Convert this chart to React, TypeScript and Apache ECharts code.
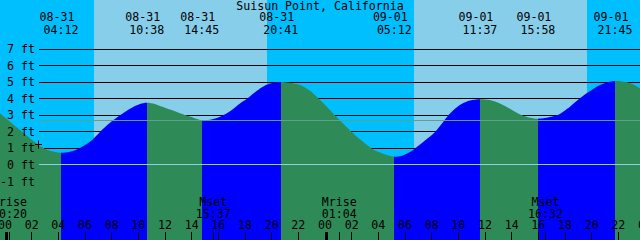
import { useEffect, useRef } from "react";
import * as echarts from "echarts";

// ---------- data ----------
const TITLE = "Suisun Point, California";

// tide curve: hours from 08-31 00:00, height in ft
const tideHours = [
  -0.375, 0.375, 1.125, 1.875, 2.625, 3.15, 3.675, 4.2, 4.875, 5.55, 6.375, 7.125, 7.875, 8.625,
  9.375, 10.125, 10.633, 11.25, 11.625, 12.375, 13.125, 13.875, 14.4, 14.75, 15.375, 16.125,
  16.875, 17.625, 18.15, 18.75, 19.275, 19.725, 20.25, 20.683, 21.375, 22.125, 22.875, 23.625,
  24.225, 24.75, 25.35, 26.0, 26.625, 27.5, 28.125, 28.65, 29.2, 29.775, 30.375, 30.75, 31.5,
  32.25, 32.775, 33.25, 33.75, 34.275, 34.875, 35.617, 36.375, 37.125, 37.875, 38.775, 39.375,
  39.967, 40.5, 41.4, 42.0, 42.375, 42.875, 43.625, 44.625, 45.225, 45.75, 46.275, 46.875, 47.625,
];
const tideFeet = [
  3.12, 2.62, 2.12, 1.62, 1.15, 0.92, 0.8, 0.74, 0.8, 1.0, 1.4, 2.0, 2.55, 3.0,
  3.4, 3.68, 3.76, 3.68, 3.56, 3.35, 3.13, 2.93, 2.78, 2.71, 2.74, 2.92,
  3.25, 3.72, 4.0, 4.4, 4.7, 4.88, 4.98, 5.02, 4.97, 4.83, 4.48, 3.92,
  3.45, 3.0, 2.5, 2.0, 1.55, 1.0, 0.75, 0.6, 0.5, 0.56, 0.78, 1.0, 1.48,
  2.0, 2.5, 3.0, 3.4, 3.7, 3.9, 3.98, 3.93, 3.72, 3.4, 3.0, 2.86,
  2.8, 2.84, 3.0, 3.3, 3.52, 3.86, 4.33, 4.83, 5.0, 5.07, 5.05, 4.95, 4.63,
];

const extremeHours = [4.2, 10.633, 14.75, 20.683, 29.2, 35.617, 39.967, 45.75];
const extremeIsHigh = [false, true, false, true, false, true, false, true];
const extremeDates = ["08-31", "08-31", "08-31", "08-31", "09-01", "09-01", "09-01", "09-01"];
const extremeTimes = ["04:12", "10:38", "14:45", "20:41", "05:12", "11:37", "15:58", "21:45"];

const sunriseHours = [6.675, 30.683];
const sunsetHours = [19.625, 43.625];

const moonHours = [0.333, 15.617, 25.067, 40.533];
const moonNames = ["Mrise", "Mset", "Mrise", "Mset"];
const moonTimes = ["00:20", "15:37", "01:04", "16:32"];

const hourTicks = [0, 2, 4, 6, 8, 10, 12, 14, 16, 18, 20, 22, 24, 26, 28, 30, 32, 34, 36, 38, 40, 42, 44, 46, 48];
const hourLabels = ["00", "02", "04", "06", "08", "10", "12", "14", "16", "18", "20", "22",
  "00", "02", "04", "06", "08", "10", "12", "14", "16", "18", "20", "22", "00"];
const dayStartHours = [0, 24];

const gridFeet = [1, 2, 3, 4, 5, 6, 7];
const axisFeet = [7, 6, 5, 4, 3, 2, 1, 0, -1];
const axisLabels = ["7 ft", "6 ft", "5 ft", "4 ft", "3 ft", "2 ft", "1 ft", "0 ft", "-1 ft"];
const datumFeet = 0;
const meanFeet = 2.7;
const crossMark = [2.525, 1.25];

// ---------- style ----------
const X_MIN = -0.375;
const X_MAX = 47.625;
const Y_MIN = -4.532;
const Y_MAX = 9.97;
const NIGHT = "#00BFFF";
const DAY = "#87CEEB";
const RISE = "#0000FF";
const FALL = "#2E8B57";
const DATUM_COLOR = "#8FD0E0";
const MEAN_COLOR = "#5FA08C";
const FONT = '11.6px "DejaVu Sans Mono", "Liberation Mono", monospace';
const LINE_X0 = 39;

function txt(text: string, x: number, y: number, align = "center") {
  return {
    type: "text",
    x,
    y,
    style: { text, font: FONT, fill: "#000", align, verticalAlign: "middle", lineHeight: 11 },
  };
}

export default function App() {
  const ref = useRef<HTMLDivElement>(null);

  useEffect(() => {
    document.body.style.margin = "0";
    if (!ref.current) return;
    const chart = echarts.init(ref.current, null, { renderer: "svg" });

    const bands: number[][] = [];
    bands.push([X_MIN, sunriseHours[0], 0]);
    for (let i = 0; i < sunriseHours.length; i++) {
      bands.push([sunriseHours[i], sunsetHours[i], 1]);
      const nextRise = i + 1 < sunriseHours.length ? sunriseHours[i + 1] : X_MAX;
      bands.push([sunsetHours[i], nextRise, 0]);
    }

    const pieces: any[] = [];
    pieces.push({ lt: extremeHours[0], color: extremeIsHigh[0] ? RISE : FALL });
    for (let i = 0; i < extremeHours.length; i++) {
      const c = extremeIsHigh[i] ? FALL : RISE;
      if (i + 1 < extremeHours.length) pieces.push({ gte: extremeHours[i], lt: extremeHours[i + 1], color: c });
      else pieces.push({ gte: extremeHours[i], color: c });
    }

    const option: any = {
      animation: false,
      grid: { left: 0, right: 0, top: 0, bottom: 0 },
      xAxis: { type: "value", min: X_MIN, max: X_MAX, show: false },
      yAxis: { type: "value", min: Y_MIN, max: Y_MAX, show: false },
      visualMap: { type: "piecewise", show: false, dimension: 0, seriesIndex: 2, pieces },
      graphic: [
        {
          type: "text",
          x: 320,
          y: 5.5,
          style: { text: TITLE, font: FONT, fill: "#000", align: "center", verticalAlign: "middle", lineHeight: 11 },
          z: 10,
        },
      ],
      series: [
        {
          type: "custom",
          name: "bands",
          z: 1,
          silent: true,
          data: bands,
          renderItem: (_p: any, api: any) => {
            const s = Math.round(api.coord([api.value(0), 0])[0]);
            const e = Math.round(api.coord([api.value(1), 0])[0]);
            return {
              type: "rect",
              shape: { x: s, y: 0, width: e - s, height: api.getHeight() },
              style: { fill: api.value(2) ? DAY : NIGHT },
            };
          },
        },
        {
          type: "custom",
          name: "gridLines",
          z: 2,
          silent: true,
          data: gridFeet.map((f) => [0, f]),
          renderItem: (_p: any, api: any) => {
            const y = Math.floor(api.coord([0, api.value(1)])[1]) + 0.5;
            return {
              type: "line",
              shape: { x1: LINE_X0, y1: y, x2: api.getWidth(), y2: y },
              style: { stroke: "#000", lineWidth: 1 },
            };
          },
        },
        {
          type: "line",
          name: "tide",
          z: 3,
          silent: true,
          smooth: 0.3,
          symbol: "none",
          showSymbol: false,
          lineStyle: { width: 0 },
          areaStyle: { opacity: 1, origin: "start" },
          data: tideHours.map((h, i) => [h, tideFeet[i]]),
        },
        {
          type: "custom",
          name: "refLines",
          z: 4,
          silent: true,
          data: [
            [0, datumFeet, 0],
            [0, meanFeet, 1],
          ],
          renderItem: (_p: any, api: any) => {
            const y = Math.floor(api.coord([0, api.value(1)])[1]) + 0.5;
            return {
              type: "line",
              shape: { x1: LINE_X0, y1: y, x2: api.getWidth(), y2: y },
              style: { stroke: api.value(2) ? MEAN_COLOR : DATUM_COLOR, lineWidth: 1 },
            };
          },
        },
        {
          type: "custom",
          name: "cross",
          z: 5,
          silent: true,
          data: [crossMark],
          renderItem: (_p: any, api: any) => {
            const pt = api.coord([api.value(0), api.value(1)]);
            const cx = Math.floor(pt[0]) + 0.5;
            const cy = Math.floor(pt[1]) + 0.5;
            return {
              type: "group",
              children: [
                { type: "line", shape: { x1: cx - 3.5, y1: cy, x2: cx + 3.5, y2: cy }, style: { stroke: "#000", lineWidth: 1 } },
                { type: "line", shape: { x1: cx, y1: cy - 4, x2: cx, y2: cy + 4 }, style: { stroke: "#000", lineWidth: 1 } },
              ],
            };
          },
        },
        {
          type: "custom",
          name: "footLabels",
          z: 5,
          silent: true,
          data: axisFeet.map((f, i) => [0, f, i]),
          renderItem: (_p: any, api: any) => {
            const y = api.coord([0, api.value(1)])[1];
            return txt(axisLabels[api.value(2)], 35, y, "right");
          },
        },
        {
          type: "custom",
          name: "extremes",
          z: 5,
          silent: true,
          data: extremeHours.map((h, i) => [h, 0, i]),
          renderItem: (_p: any, api: any) => {
            const i = api.value(2);
            const x = api.coord([api.value(0), 0])[0];
            return {
              type: "group",
              children: [txt(extremeDates[i], x - 4, 17.4), txt(extremeTimes[i], x, 29.5)],
            };
          },
        },
        {
          type: "custom",
          name: "hours",
          z: 5,
          silent: true,
          data: hourTicks.map((h, i) => [h, 0, i]),
          renderItem: (_p: any, api: any) => {
            const i = api.value(2);
            const xr = api.coord([api.value(0), 0])[0];
            const x = Math.floor(xr) + 0.5;
            const h = api.getHeight();
            return {
              type: "group",
              children: [
                { type: "line", shape: { x1: x, y1: h - 8, x2: x, y2: h }, style: { stroke: "#000", lineWidth: 1 } },
                txt(hourLabels[i], xr, h - 15),
              ],
            };
          },
        },
        {
          type: "custom",
          name: "days",
          z: 5,
          silent: true,
          data: dayStartHours.map((h) => [h, 0]),
          renderItem: (_p: any, api: any) => {
            const x = Math.floor(api.coord([api.value(0), 0])[0]);
            const h = api.getHeight();
            return { type: "rect", shape: { x, y: h - 8, width: 3, height: 8 }, style: { fill: "#000" } };
          },
        },
        {
          type: "custom",
          name: "moon",
          z: 5,
          silent: true,
          data: moonHours.map((h, i) => [h, 0, i]),
          renderItem: (_p: any, api: any) => {
            const i = api.value(2);
            const xr = api.coord([api.value(0), 0])[0];
            const x = Math.floor(xr) + 0.5;
            const h = api.getHeight();
            return {
              type: "group",
              children: [
                { type: "line", shape: { x1: x, y1: h - 8, x2: x, y2: h }, style: { stroke: "#000", lineWidth: 1 } },
                txt(moonNames[i], xr, h - 38),
                txt(moonTimes[i], xr, h - 26.2),
              ],
            };
          },
        },
      ],
    };

    chart.setOption(option);
    return () => chart.dispose();
  }, []);

  return <div ref={ref} style={{ width: 640, height: 240 }} />;
}
